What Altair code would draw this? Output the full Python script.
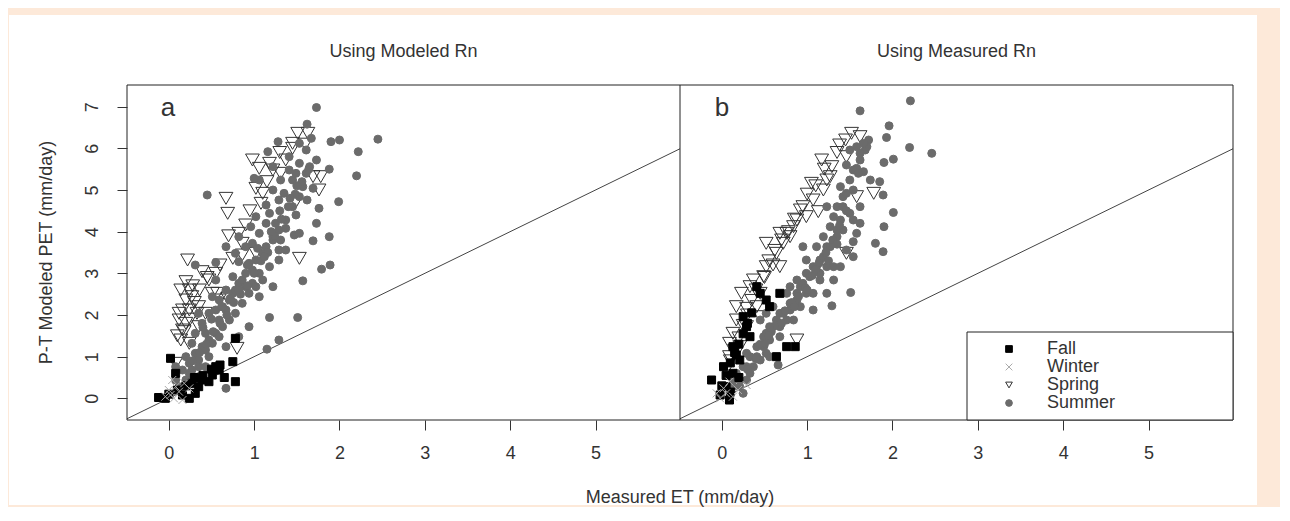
import altair as alt
import pandas as pd

# ---------------- data ----------------
seasons = ["Fall", "Winter", "Spring", "Summer"]
x_ticks = [0, 1, 2, 3, 4, 5]
y_ticks = [0, 1, 2, 3, 4, 5, 6, 7]
x_domain = [-0.49, 5.99]
y_domain = [-0.52, 7.52]
one_to_one = [-0.49, 5.99]

# Panel a: Using Modeled Rn
a_summer_x = [1.73, 1.62, 2.45, 2.0, 1.9, 2.22, 2.2, 1.88, 1.28, 1.16, 0.45, 1.99, 1.88, 1.69, 1.89, 1.79,
              1.18, 1.51, 1.29, 1.15, 0.67, 1.57, 1.47, 1.45, 1.69, 1.76, 1.62, 1.49, 1.37, 1.31, 1.22, 1.18,
              1.14, 1.02, 0.96, 0.94, 0.82, 0.9, 0.82, 0.75, 0.98, 1.06, 1.22, 1.29, 0.55, 0.67, 0.94, 0.82,
              0.67, 0.47, 0.35, 0.24, 0.12, 0.08, 0.43, 0.35, 0.51, 0.59, 0.27, 0.2, 1.53, 1.41, 1.61, 1.73,
              1.31, 1.35, 1.06, 1.0, 1.53, 1.67, 1.22, 1.25, 1.1, 1.18, 1.06, 0.82, 0.67, 0.55, 0.31,
              0.16, 0.24, 0.31, 0.39, 0.47, 0.55, 0.63, 0.71, 0.78, 0.86, 0.94, 1.02, 1.1, 0.75, 0.67, 0.59,
              0.47, 0.39, 0.31, 0.55, 0.63, 0.71, 0.78, 0.86, 0.9, 0.98, 1.02, 1.14, 1.22, 1.29, 1.37, 1.45,
              1.53, 1.57, 1.61, 1.65, 1.41, 1.49, 1.22, 1.29, 1.14, 1.06, 0.9, 0.78, 0.98, 1.29, 1.37, 1.53,
              1.73, 0.08, 0.2, 0.27, 0.35, 0.43, 0.51, 0.59, 0.35, 0.43, 0.16, 0.27,
              0.28, 0.36, 0.44, 0.52, 0.6, 0.68, 0.76, 0.84, 0.92, 1.0, 1.08, 1.16, 1.24, 1.32, 1.4, 1.48,
              1.56, 1.64, 0.4, 0.5, 0.62, 0.72, 0.82, 0.92, 1.04, 1.12, 1.2, 1.3, 1.42, 1.5]
a_summer_y = [6.98, 6.58, 6.22, 6.2, 6.16, 5.92, 5.34, 5.5, 6.16, 5.92, 4.88, 4.72, 3.88, 3.78, 3.2, 3.1,
              1.94, 1.94, 1.4, 1.18, 0.24, 2.82, 3.92, 5.24, 5.04, 4.56, 4.76, 4.4, 4.08, 3.8, 3.8, 4.44,
              4.64, 4.36, 4.12, 3.24, 3.28, 3.0, 2.76, 2.52, 2.76, 2.44, 2.68, 3.32, 3.26, 2.12, 1.72, 1.48,
              1.24, 1.0, 0.76, 0.6, 0.28, 0.44, 1.56, 2.04, 2.44, 1.88, 1.32, 1.0, 5.64, 5.8, 5.96, 5.72,
              5.24, 4.92, 5.24, 5.28, 6.12, 6.24, 5.56, 4.2, 3.48, 3.16, 3.0, 3.88, 3.64, 2.84, 3.2,
              0.68, 0.84, 1.08, 1.24, 1.4, 1.56, 1.72, 1.88, 2.04, 2.28, 2.52, 2.68, 2.84, 2.92, 2.6, 2.36,
              2.04, 1.8, 1.56, 2.12, 2.2, 2.36, 2.6, 2.84, 2.68, 3.08, 3.32, 3.64, 3.88, 4.04, 4.28, 4.6,
              4.84, 5.08, 5.4, 5.56, 5.48, 5.4, 5.0, 4.76, 4.2, 3.96, 3.64, 3.48, 3.72, 3.56, 3.56, 3.96,
              4.2, 0.76, 0.44, 0.68, 0.92, 1.16, 1.32, 1.48, 0.52, 0.76, 0.2, 0.44,
              0.9, 1.1, 1.3, 1.6, 1.8, 2.0, 2.3, 2.5, 2.7, 3.0, 3.3, 3.5, 3.9, 4.3, 4.6, 4.9,
              5.2, 5.5, 1.7, 1.9, 2.2, 2.4, 2.6, 3.2, 3.6, 3.4, 4.0, 4.5, 4.8, 5.1]
a_spring_x = [1.51, 1.63, 1.45, 0.98, 1.06, 1.22, 1.37, 1.69, 1.78, 1.02, 1.1, 1.08, 1.76, 1.49, 0.67, 0.69,
              0.9, 0.82, 0.86, 1.02, 0.86, 0.75, 0.22, 0.39, 0.55, 0.47, 0.14, 0.24, 0.69, 0.16, 0.24, 0.33,
              0.12, 0.2, 0.35, 0.14, 0.24, 0.8, 1.53, 1.31, 1.18, 0.57, 0.08, 0.12, 0.2, 0.27, 0.16, 0.35,
              0.43, 0.51, 0.59, 0.1, 0.18, 0.25, 0.3, 0.2, 0.28, 0.36, 0.45, 0.6, 0.7, 0.95, 1.15, 1.3,
              1.45, 1.6]
a_spring_y = [6.36, 6.36, 6.12, 5.72, 5.52, 5.48, 5.72, 5.32, 5.32, 5.04, 4.92, 4.68, 5.0, 4.72, 4.8, 4.44,
              4.16, 3.96, 3.72, 3.48, 3.44, 3.36, 3.32, 3.04, 3.0, 2.84, 2.6, 2.6, 2.4, 2.12, 2.12, 2.04,
              1.88, 1.8, 1.72, 1.4, 1.32, 1.2, 3.36, 5.4, 5.64, 2.52, 0.84, 2.04, 2.36, 2.44, 1.64, 2.2,
              2.04, 2.52, 2.36, 1.5, 1.6, 1.9, 2.3, 2.8, 2.7, 2.6, 2.9, 3.2, 3.9, 4.5, 5.2, 5.9,
              6.0, 6.1]
a_fall_x = [-0.12, 0.02, 0.75, 0.78, 0.59, 0.51, 0.47, 0.35, 0.31, 0.24, 0.16, -0.04, 0.39, 0.78, 0.08,
            0.27, 0.55, 0.0, 0.1, 0.2, 0.3, 0.4, 0.5, 0.6, 0.65]
a_fall_y = [0.02, 0.96, 0.88, 0.4, 0.68, 0.56, 0.4, 0.28, 0.12, 0.0, 0.08, 0.0, 0.44, 1.44, 0.6, 0.36, 0.76,
            0.1, 0.2, 0.3, 0.5, 0.55, 0.7, 0.8, 0.5]
a_winter_x = [-0.04, 0.02, 0.06, 0.12, 0.08, 0.16, 0.0, 0.18, 0.24, 0.04]
a_winter_y = [0.04, 0.08, 0.0, 0.16, 0.28, -0.04, 0.2, 0.36, 0.24, 0.44]

# Panel b: Using Measured Rn
b_summer_x = [2.21, 1.62, 1.96, 1.93, 2.2, 2.46, 2.01, 1.9, 1.85, 1.89, 2.01, 1.9, 1.8, 1.89, 1.51, 1.29,
              0.66, 1.72, 1.68, 1.62, 1.58, 1.66, 1.74, 1.46, 1.39, 1.42, 1.35, 1.5, 1.54, 1.62, 1.31, 1.42,
              1.35, 1.27, 1.58, 1.46, 1.54, 1.23, 1.19, 1.11, 1.15, 1.31, 1.07, 0.99, 1.15, 1.31, 1.23, 1.07,
              0.92, 0.88, 0.76, 0.8, 0.68, 0.84, 0.6, 0.52, 0.68, 0.49, 0.41, 0.56, 0.29, 0.21, 0.13, 0.33,
              0.25, 1.07, 0.99, 0.95, 1.39, 1.54, 1.23, 1.62,
              0.17, 0.25, 0.33, 0.41, 0.49, 0.56, 0.64, 0.72, 0.8, 0.88, 0.95, 1.03, 1.11, 1.19, 1.27, 1.35,
              1.39, 1.42, 1.46, 1.5, 1.54, 1.62, 1.7, 1.66, 1.58, 1.5, 0.45, 0.52, 0.6, 0.76, 0.68, 0.56,
              0.92, 0.99, 1.15, 1.23, 0.88, 0.8, 0.29, 0.37, 0.13, 0.21, 0.29, 0.45, 0.52,
              0.3, 0.4, 0.5, 0.58, 0.66, 0.74, 0.82, 0.9, 0.98, 1.06, 1.14, 1.22, 1.3, 1.38, 1.46, 1.54,
              1.6, 0.45, 0.55, 0.7, 0.85, 1.0, 1.1, 1.25, 1.35]
b_summer_y = [7.14, 6.9, 6.54, 6.26, 6.02, 5.88, 5.74, 5.66, 5.2, 4.88, 4.46, 4.12, 3.72, 3.52, 2.54, 2.22,
              0.8, 6.2, 5.96, 5.72, 5.52, 5.44, 5.24, 5.6, 5.08, 4.84, 4.6, 4.44, 4.28, 4.2, 4.36, 4.04,
              3.88, 4.12, 3.96, 3.56, 3.76, 3.64, 3.88, 3.64, 3.32, 3.16, 3.16, 3.0, 2.84, 2.84, 2.52, 2.52,
              2.68, 2.36, 2.52, 2.12, 2.04, 1.88, 1.72, 1.56, 1.48, 1.24, 1.0, 1.0, 0.76, 0.44, 0.28, 0.6,
              0.12, 2.12, 3.32, 3.64, 3.16, 3.4, 4.6, 4.6,
              0.6, 0.76, 1.0, 1.24, 1.48, 1.72, 1.88, 2.04, 2.28, 2.52, 2.76, 2.92, 3.16, 3.4, 3.64, 4.04,
              4.28, 4.6, 4.92, 5.24, 5.48, 5.88, 6.04, 6.12, 6.04, 5.96, 1.88, 2.04, 2.2, 1.88, 1.72, 1.4,
              2.2, 2.52, 3.0, 3.16, 2.84, 2.68, 1.08, 0.76, 0.44, 0.28, 0.44, 0.92, 1.08,
              0.7, 0.95, 1.3, 1.6, 1.75, 2.1, 2.3, 2.45, 2.65, 2.95, 3.25, 3.5, 3.8, 4.15, 4.5, 5.0,
              5.4, 1.3, 1.5, 1.8, 2.2, 2.6, 3.1, 3.3, 3.7]
b_spring_x = [1.52, 1.62, 1.38, 1.17, 1.29, 1.05, 1.19, 1.58, 1.78, 0.92, 0.99, 1.13, 0.84, 0.76, 0.52, 0.72,
              0.64, 0.6, 0.68, 0.37, 0.49, 0.23, 0.45, 0.29, 0.17, 0.45, 0.88, 0.13, 0.21, 0.09, 0.05, 1.46,
              1.27, 0.8, 1.46, 0.17, 0.29, 0.33, 0.52, 0.68, 0.88, 1.07, 1.23, 0.09, 0.41,
              0.1, 0.15, 0.2, 0.25, 0.3, 0.35, 0.4, 0.5, 0.55, 0.62, 0.7, 0.78, 0.85, 0.95, 1.0, 1.1,
              1.2, 1.35, 1.45]
b_spring_y = [6.36, 6.28, 6.08, 5.72, 5.56, 5.16, 5.0, 4.84, 4.92, 4.52, 4.36, 4.48, 4.12, 3.96, 3.72, 3.72,
              3.48, 3.2, 3.16, 2.84, 2.92, 2.52, 2.52, 2.16, 1.88, 1.96, 1.4, 1.56, 1.24, 1.0, 0.68, 5.8,
              5.32, 3.88, 3.48, 2.2, 1.72, 2.68, 3.16, 3.96, 4.28, 4.76, 5.24, 1.32, 2.2,
              0.9, 1.15, 1.45, 1.75, 2.0, 2.35, 2.6, 2.9, 3.3, 3.55, 3.8, 4.0, 4.3, 4.6, 4.9, 5.1,
              5.5, 5.9, 6.2]
b_fall_x = [-0.12, -0.02, 0.09, 0.02, 0.13, 0.17, 0.76, 0.86, 0.64, 0.45, 0.52, 0.56, 0.33, 0.29, 0.25, 0.21,
            0.13, 0.05, 0.41, 0.68, 0.0, 0.05, 0.1, 0.15, 0.2, 0.25, 0.3, 0.35, 0.1, 0.2]
b_fall_y = [0.44, 0.08, -0.04, 0.76, 1.24, 1.04, 1.24, 1.24, 1.0, 2.52, 2.36, 2.2, 1.48, 1.72, 1.96, 0.92,
            0.6, 0.28, 2.68, 2.52, 0.3, 0.55, 0.85, 1.1, 1.3, 1.55, 1.8, 2.05, 0.15, 0.5]
b_winter_x = [-0.02, 0.05, 0.13, 0.02, 0.19, 0.09, 0.29, -0.06]
b_winter_y = [0.0, 0.12, 0.04, 0.24, 0.2, 0.4, 0.32, 0.12]

# ---------------- styling ----------------
PEACH = "#fde9d9"
FONT = "Liberation Sans"
TXT = "#333333"
FRAME = "#222222"
W, H = 553, 335


def season_frame(parts):
    frames = [pd.DataFrame({"x": xs, "y": ys, "season": s}) for s, xs, ys in parts]
    return pd.concat(frames, ignore_index=True)


df_a_tri = season_frame([("Spring", a_spring_x, a_spring_y)])
df_a_oth = season_frame([("Summer", a_summer_x, a_summer_y), ("Fall", a_fall_x, a_fall_y),
                         ("Winter", a_winter_x, a_winter_y)])
df_b_tri = season_frame([("Spring", b_spring_x, b_spring_y)])
df_b_oth = season_frame([("Summer", b_summer_x, b_summer_y), ("Fall", b_fall_x, b_fall_y),
                         ("Winter", b_winter_x, b_winter_y)])
df_line = pd.DataFrame({"x": one_to_one, "y": one_to_one})
one = pd.DataFrame({"k": [0]})

# each panel has its own x scale, laid side by side through the scale range
xscale_a = alt.Scale(domain=x_domain, range=[0, W], nice=False, zero=False)
xscale_b = alt.Scale(domain=x_domain, range=[W, 2 * W], nice=False, zero=False)
yscale = alt.Scale(domain=y_domain, nice=False, zero=False)
shape_scale = alt.Scale(domain=seasons, range=["square", "M-1,-1L1,1M-1,1L1,-1", "triangle-down", "circle"])
fill_scale = alt.Scale(domain=seasons, range=["#000000", "transparent", "transparent", "#6b6b6b"])
stroke_scale = alt.Scale(domain=seasons, range=["#000000", "#ababab", "#333333", "#6b6b6b"])

xaxis = alt.Axis(values=x_ticks, orient="bottom", tickSize=10, tickColor=TXT, domain=False, grid=False,
                 title=None, labelFontSize=18, labelFont=FONT, labelColor=TXT, labelPadding=14,
                 labelFlush=False, zindex=2)
yaxis = alt.Axis(values=y_ticks, orient="left", tickSize=10, tickColor=TXT, domain=False, grid=False,
                 title=None, labelFontSize=18, labelFont=FONT, labelColor=TXT, labelPadding=16,
                 labelAngle=270, labelAlign="center", labelBaseline="bottom", labelFlush=False, zindex=2)

season_legend = alt.Legend(orient="none", legendX=873, legendY=255, title=None, labelFontSize=18,
                           labelFont=FONT, labelColor=TXT, symbolSize=45, symbolStrokeWidth=1,
                           rowPadding=0, padding=0, labelOffset=29)


def points(df, xs, size):
    return alt.Chart(df).mark_point(strokeWidth=1, opacity=1, size=size).encode(
        x=alt.X("x:Q", scale=xs, axis=xaxis),
        y=alt.Y("y:Q", scale=yscale, axis=yaxis),
        shape=alt.Shape("season:N", scale=shape_scale, legend=season_legend),
        fill=alt.Fill("season:N", scale=fill_scale, legend=season_legend),
        stroke=alt.Stroke("season:N", scale=stroke_scale, legend=season_legend),
    )


def abline(xs):
    return alt.Chart(df_line).mark_line(color="#444444", strokeWidth=1).encode(
        x=alt.X("x:Q", scale=xs, axis=xaxis), y=alt.Y("y:Q", scale=yscale, axis=yaxis))


def label(text, x, y, size=18, angle=0):
    return alt.Chart(one).mark_text(text=text, fontSize=size, font=FONT, color=TXT, align="center",
                                    baseline="middle", angle=angle).encode(x=alt.value(x), y=alt.value(y))


def rect(x, x2, y, y2, fill, stroke=None, fill_opacity=1):
    kw = dict(fill=fill, fillOpacity=fill_opacity)
    if stroke:
        kw.update(stroke=stroke, strokeWidth=1)
    return alt.Chart(one).mark_rect(**kw).encode(x=alt.value(x), x2=alt.value(x2),
                                                 y=alt.value(y), y2=alt.value(y2))


decor = alt.layer(
    rect(-119, 1153, -77, 420, PEACH),
    rect(-118, 1130, -70, 420, "white"),
    label("Using Modeled Rn", W / 2, -33),
    label("Using Measured Rn", W + W / 2, -33),
    label("Measured ET (mm/day)", W, 413),
    label("P-T Modeled PET (mm/day)", -80, H / 2, angle=270),
)

panel_a = alt.layer(
    abline(xscale_a),
    points(df_a_tri, xscale_a, 190),
    points(df_a_oth, xscale_a, 64),
)

panel_b = alt.layer(
    abline(xscale_b),
    points(df_b_tri, xscale_b, 190),
    points(df_b_oth, xscale_b, 64),
)

overlay = alt.layer(
    rect(0, 2 * W, 0, H, "white", stroke=FRAME, fill_opacity=0),
    alt.Chart(one).mark_rule(color=FRAME, strokeWidth=1).encode(
        x=alt.value(W), y=alt.value(0), y2=alt.value(H)),
    rect(W + 287, 2 * W, 247, H, "white", stroke=FRAME),
    label("a", 41, 23, size=26),
    label("b", W + 42, 23, size=26),
)

chart = alt.layer(decor, panel_a, panel_b, overlay).resolve_scale(x="independent").properties(
    width=2 * W, height=H, padding=0, background=PEACH
).configure_view(stroke=None)

chart.save("out.html", embed_options={"renderer": "svg", "actions": False})
